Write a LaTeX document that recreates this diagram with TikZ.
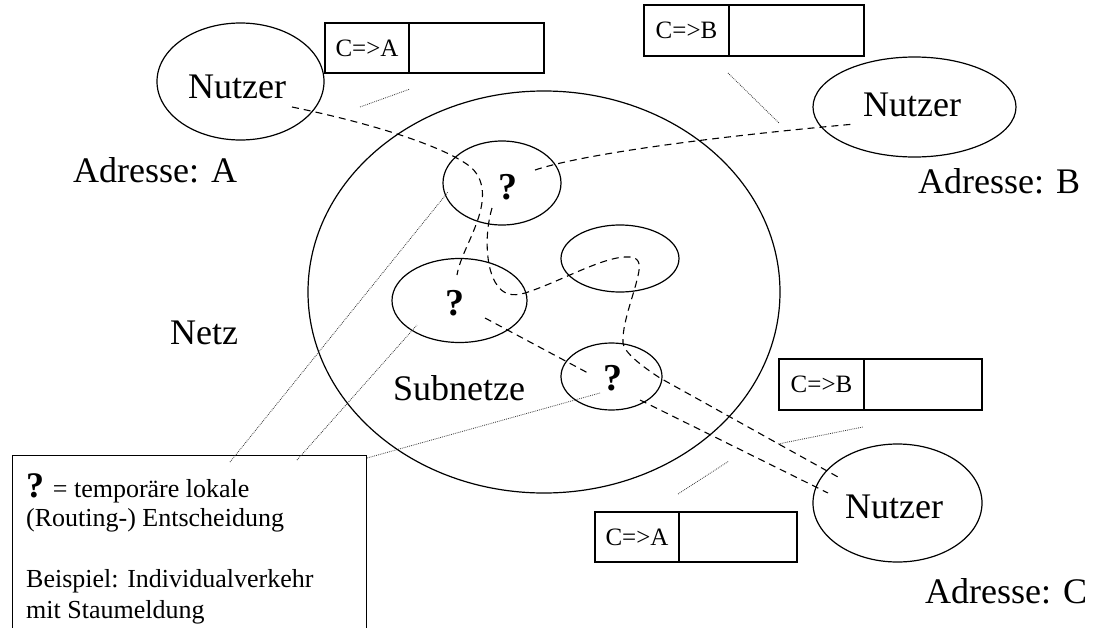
\documentclass[tikz,border=0pt]{standalone}
\usepackage{fontspec}
\setmainfont{Liberation Serif}
\usetikzlibrary{shapes.geometric}
\begin{document}
\begin{tikzpicture}[x=1pt,y=-1pt,
  outline/.style={draw=black, line width=1.2pt, ellipse, inner sep=0pt, outer sep=0pt},
  cell/.style={draw=black, line width=1.2pt, rectangle, inner sep=0pt, outer sep=0pt,
    minimum height=50pt, font=\fontsize{25}{30}\selectfont},
  route/.style={draw=black, line width=1.1pt, dash pattern=on 7pt off 5pt},
  pointer/.style={draw=black!80, line width=0.8pt, dash pattern=on 0.8pt off 1.1pt},
  big/.style={font=\fontsize{36}{43}\selectfont, inner sep=0pt, anchor=base west},
  small/.style={font=\fontsize{26}{30}\selectfont, inner sep=0pt, anchor=base west},
  qmark/.style={font=\bfseries\fontsize{38}{44}\selectfont, inner sep=0pt},
  ]
\clip (0,0) rectangle (1093,627);
\fill[white] (0,0) rectangle (1093,627);

% the network and its subnets
\node[outline, minimum width=472pt, minimum height=402pt] (netz) at (544,292) {};
\node[outline, minimum width=118pt, minimum height=84pt] (s1) at (502,183) {};
\node[outline, minimum width=135pt, minimum height=84pt] (s2) at (459.5,300.5) {};
\node[outline, minimum width=118pt, minimum height=67pt] (s3) at (620,258.5) {};
\node[outline, minimum width=101pt, minimum height=67pt] (s4) at (611.5,376.5) {};
\node[qmark] (q1) at (508,187) {?};
\node[qmark] (q2) at (455,303) {?};
\node[qmark] (q4) at (613,378) {?};

% users
\node[outline, minimum width=167pt, minimum height=117pt] (ua) at (240.5,81.5) {};
\node[outline, minimum width=203pt, minimum height=100pt] (ub) at (914.5,107) {};
\node[outline, minimum width=169pt, minimum height=118pt] (uc) at (897.5,503) {};
\node[big] (ta) at (188,98) {Nutzer};
\node[big] (tb) at (863,116) {Nutzer};
\node[big] (tc) at (845,518) {Nutzer};

% labels
\node[big] (adra) at (73,182) {Adresse: A};
\node[big] (adrb) at (918,193) {Adresse: B};
\node[big] (adrc) at (925,603) {Adresse: C};
\node[big] (netzlabel) at (170,344) {Netz};
\node[big] (sublabel) at (393,400) {Subnetze};

% packets
\node[cell, minimum width=84pt] (pa1) at (367,48) {C=>A};
\node[cell, minimum width=135pt, anchor=west] (pa1d) at (pa1.east) {};
\node[cell, minimum width=85pt, minimum height=51pt] (pb1) at (686.5,30.5) {C=>B};
\node[cell, minimum width=135pt, minimum height=51pt, anchor=west] (pb1d) at (pb1.east) {};
\node[cell, minimum width=85pt, minimum height=51pt] (pb2) at (821.5,384.5) {C=>B};
\node[cell, minimum width=118pt, minimum height=51pt, anchor=west] (pb2d) at (pb2.east) {};
\node[cell, minimum width=84pt] (pa2) at (637,537) {C=>A};
\node[cell, minimum width=118pt, anchor=west] (pa2d) at (pa2.east) {};

% legend
\node[draw=black, line width=1.2pt, rectangle, inner sep=0pt, anchor=north west,
  minimum width=354pt, minimum height=200pt] (legend) at (12,455) {};
\node[small] (l1) at (26,497) {{\bfseries\fontsize{36}{36}\selectfont ?} = temporäre lokale};
\node[small] (l2) at (26,526) {(Routing-) Entscheidung};
\node[small] (l3) at (26,587) {Beispiel: Individualverkehr};
\node[small] (l4) at (26,618) {mit Staumeldung};

% route end points
\coordinate (ra0) at (292,107);
\coordinate (ra1) at (468,165);
\coordinate (ra2) at (477,222);
\coordinate (ra3) at (457,275);
\coordinate (rm0) at (485,318);
\coordinate (rm1) at (588,373);
\coordinate (rl0) at (640,400);
\coordinate (rl1) at (828,493);
\coordinate (rb0) at (535,170);
\coordinate (rb1) at (855,124);
\coordinate (rc0) at (492,208);
\coordinate (rc1) at (660,378);
\coordinate (rc2) at (838,477);

% routes through the subnets
\draw[route] (ra0) .. controls (370,123) and (440,145) .. (ra1)
  .. controls (486,178) and (485,200) .. (ra2)
  .. controls (470,242) and (460,258) .. (ra3);
\draw[route] (rm0) -- (rm1);
\draw[route] (rl0) -- (rl1);
\draw[route] (rb0) .. controls (580,155) and (700,138) .. (rb1);
\draw[route] (rc0) .. controls (484,235) and (486,270) .. (497,285)
  .. controls (503,294) and (512,297) .. (525,293)
  .. controls (560,282) and (605,255) .. (630,257)
  .. controls (642,258) and (640,268) .. (637,280)
  .. controls (632,300) and (622,325) .. (623,343)
  .. controls (624,352) and (640,365) .. (rc1) -- (rc2);

% packet direction hints
\coordinate (h1a) at (360,107); \coordinate (h1b) at (410,89);
\coordinate (h2a) at (728,73);  \coordinate (h2b) at (779,123);
\coordinate (h3a) at (778,444); \coordinate (h3b) at (863,427);
\coordinate (h4a) at (678,494); \coordinate (h4b) at (729,461);
\draw[pointer] (h1a) -- (h1b);
\draw[pointer] (h2a) -- (h2b);
\draw[pointer] (h3a) -- (h3b);
\draw[pointer] (h4a) -- (h4b);

% legend pointers to the decision points
\coordinate (g1a) at (230,462); \coordinate (g1b) at (448,192);
\coordinate (g2a) at (297,460); \coordinate (g2b) at (417,325);
\coordinate (g3a) at (367,458); \coordinate (g3b) at (600,393);
\draw[pointer] (g1a) -- (g1b);
\draw[pointer] (g2a) -- (g2b);
\draw[pointer] (g3a) -- (g3b);
\end{tikzpicture}
\end{document}
